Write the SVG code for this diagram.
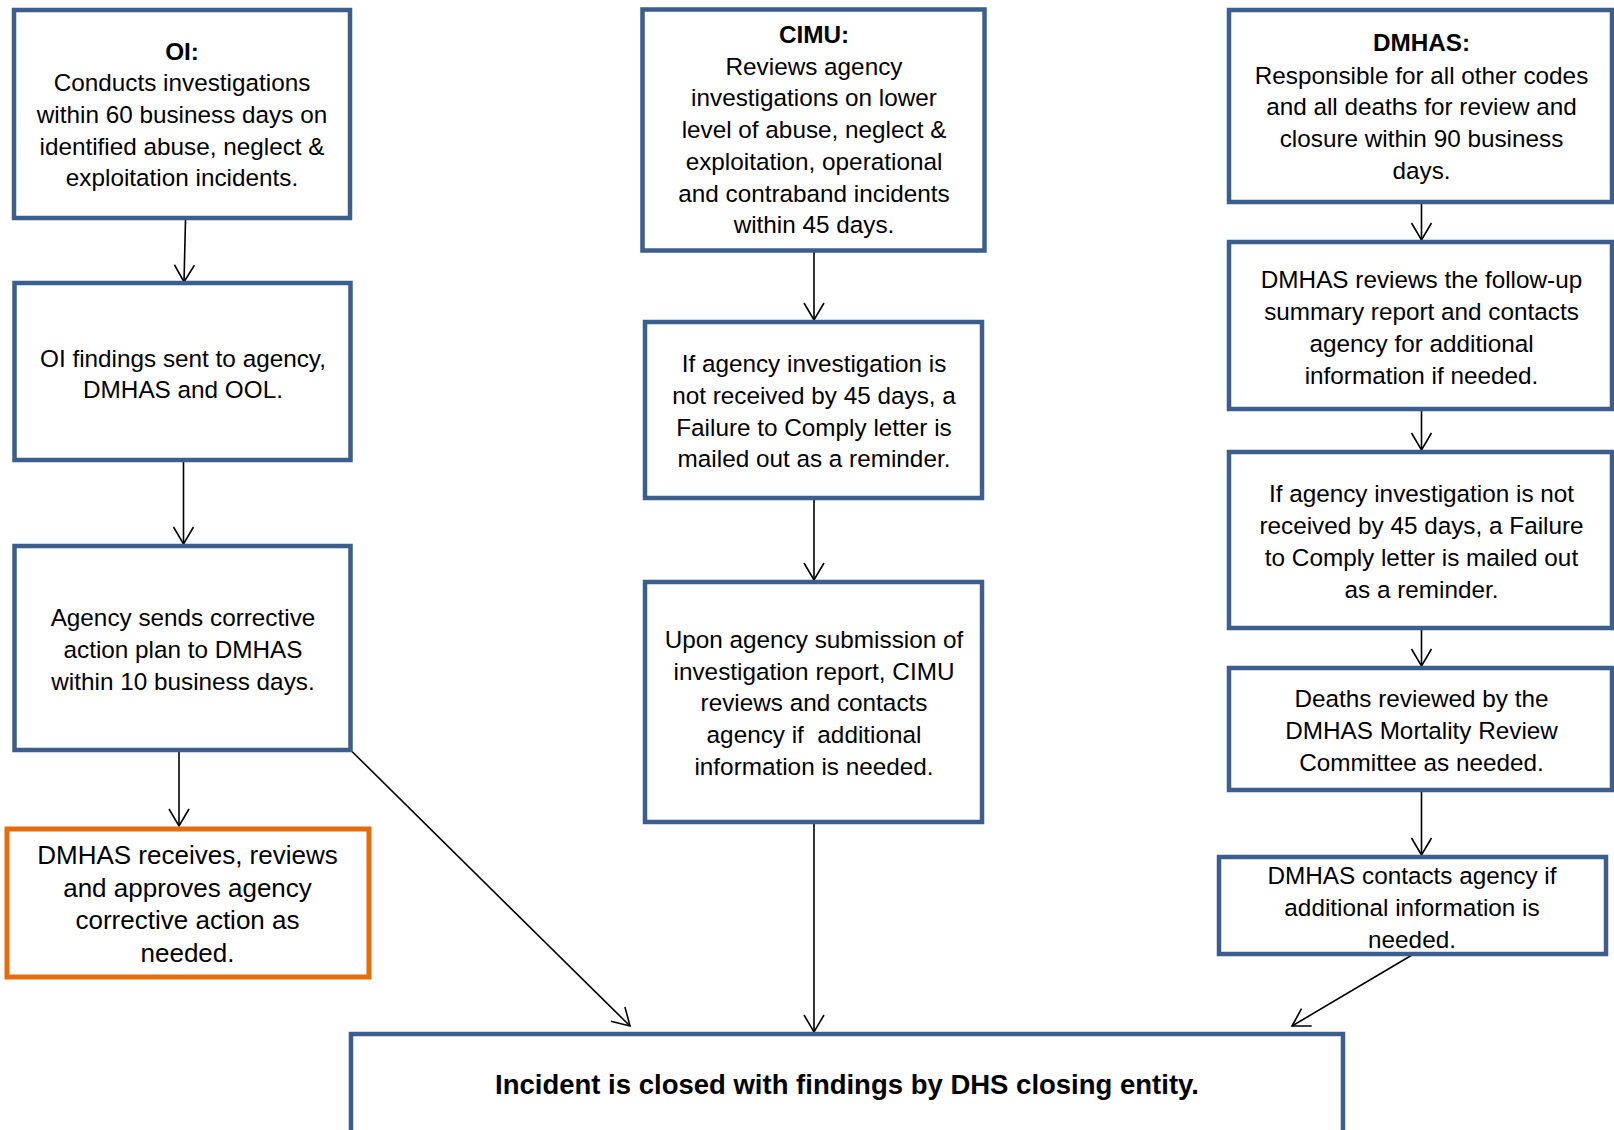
<svg xmlns="http://www.w3.org/2000/svg" width="1614" height="1130" viewBox="0 0 1614 1130">
<style>
.box{fill:#fff;stroke:#3B5E8C;stroke-width:4.5}
.obox{fill:#fff;stroke:#E46C0A;stroke-width:5}
.t{font-family:"Liberation Sans",Arial,sans-serif;font-size:24.3px;fill:#000;text-anchor:middle}
.a{font-family:"Liberation Sans",Arial,sans-serif;font-size:26px;fill:#000;text-anchor:middle}
.b{font-weight:bold}
.big{font-family:"Liberation Sans",Arial,sans-serif;font-size:27.5px;font-weight:bold;fill:#000;text-anchor:middle}
.c{stroke:#000;stroke-width:1.6;fill:none;marker-end:url(#ah)}
</style>
<defs>
<marker id="ah" markerUnits="userSpaceOnUse" viewBox="-20 -12 22 24" markerWidth="22" markerHeight="24" refX="0" refY="0" orient="auto">
<path d="M-17,-10 L0,0 L-17,10" fill="none" stroke="#000" stroke-width="1.6"/>
</marker>
</defs>
<rect width="1614" height="1130" fill="#fff"/>
<g id="connectors">
<line class="c" x1="185.5" y1="220" x2="184" y2="282"/>
<line class="c" x1="183.5" y1="462" x2="183.5" y2="544"/>
<line class="c" x1="179" y1="752" x2="179" y2="826"/>
<line class="c" x1="350.5" y1="750" x2="630" y2="1026"/>
<line class="c" x1="814" y1="252" x2="814" y2="320"/>
<line class="c" x1="814" y1="500" x2="814" y2="580"/>
<line class="c" x1="814" y1="824" x2="814" y2="1032"/>
<line class="c" x1="1421.5" y1="204" x2="1421.5" y2="240"/>
<line class="c" x1="1421.5" y1="411" x2="1421.5" y2="450"/>
<line class="c" x1="1421.5" y1="630" x2="1421.5" y2="666"/>
<line class="c" x1="1421.5" y1="792" x2="1421.5" y2="855"/>
<line class="c" x1="1412" y1="955" x2="1292" y2="1026"/>
</g>
<g id="oi">
<rect class="box" x="14" y="10" width="336" height="208"/>
<text class="t b" x="182" y="59.5">OI:</text>
<text class="t" x="182" y="91.2">Conducts investigations</text>
<text class="t" x="182" y="122.9">within 60 business days on</text>
<text class="t" x="182" y="154.6">identified abuse, neglect &amp;</text>
<text class="t" x="182" y="186.3">exploitation incidents.</text>
</g>
<g id="oi-findings">
<rect class="box" x="14.5" y="283" width="336" height="177"/>
<text class="t" x="183" y="366.5">OI findings sent to agency,</text>
<text class="t" x="183" y="398.3">DMHAS and OOL.</text>
</g>
<g id="agency-plan">
<rect class="box" x="14.5" y="546" width="336" height="204"/>
<text class="t" x="183" y="626">Agency sends corrective</text>
<text class="t" x="183" y="657.9">action plan to DMHAS</text>
<text class="t" x="183" y="689.8">within 10 business days.</text>
</g>
<g id="dmhas-approves">
<rect class="obox" x="7" y="829" width="362" height="148"/>
<text class="a" x="187.5" y="864">DMHAS receives, reviews</text>
<text class="a" x="187.5" y="896.5">and approves agency</text>
<text class="a" x="187.5" y="929">corrective action as</text>
<text class="a" x="187.5" y="961.5">needed.</text>
</g>
<g id="cimu">
<rect class="box" x="642.5" y="9.5" width="342" height="241"/>
<text class="t b" x="814" y="42.7">CIMU:</text>
<text class="t" x="814" y="74.5">Reviews agency</text>
<text class="t" x="814" y="106.2">investigations on lower</text>
<text class="t" x="814" y="138">level of abuse, neglect &amp;</text>
<text class="t" x="814" y="169.7">exploitation, operational</text>
<text class="t" x="814" y="201.5">and contraband incidents</text>
<text class="t" x="814" y="233.2">within 45 days.</text>
</g>
<g id="cimu-reminder">
<rect class="box" x="645" y="322" width="337" height="176"/>
<text class="t" x="814" y="371.7">If agency investigation is</text>
<text class="t" x="814" y="403.6">not received by 45 days, a</text>
<text class="t" x="814" y="435.5">Failure to Comply letter is</text>
<text class="t" x="814" y="467.4">mailed out as a reminder.</text>
</g>
<g id="cimu-review">
<rect class="box" x="645" y="582" width="337" height="240"/>
<text class="t" x="814" y="647.6">Upon agency submission of</text>
<text class="t" x="814" y="679.5">investigation report, CIMU</text>
<text class="t" x="814" y="711.4">reviews and contacts</text>
<text class="t" x="814" y="743.3" xml:space="preserve">agency if  additional</text>
<text class="t" x="814" y="775.2">information is needed.</text>
</g>
<g id="dmhas">
<rect class="box" x="1229" y="10" width="383" height="192"/>
<text class="t b" x="1421.5" y="50.5">DMHAS:</text>
<text class="t" x="1421.5" y="83.5">Responsible for all other codes</text>
<text class="t" x="1421.5" y="115.4">and all deaths for review and</text>
<text class="t" x="1421.5" y="147.3">closure within 90 business</text>
<text class="t" x="1421.5" y="179.2">days.</text>
</g>
<g id="dmhas-followup">
<rect class="box" x="1229" y="242" width="383" height="167"/>
<text class="t" x="1421.5" y="288.3">DMHAS reviews the follow-up</text>
<text class="t" x="1421.5" y="320.2">summary report and contacts</text>
<text class="t" x="1421.5" y="352.2">agency for additional</text>
<text class="t" x="1421.5" y="384.1">information if needed.</text>
</g>
<g id="dmhas-reminder">
<rect class="box" x="1229" y="452" width="383" height="176"/>
<text class="t" x="1421.5" y="502.4">If agency investigation is not</text>
<text class="t" x="1421.5" y="534.4">received by 45 days, a Failure</text>
<text class="t" x="1421.5" y="566.3">to Comply letter is mailed out</text>
<text class="t" x="1421.5" y="598.2">as a reminder.</text>
</g>
<g id="dmhas-mortality">
<rect class="box" x="1229" y="668" width="383" height="122"/>
<text class="t" x="1421.5" y="707.3">Deaths reviewed by the</text>
<text class="t" x="1421.5" y="739.2">DMHAS Mortality Review</text>
<text class="t" x="1421.5" y="771.1">Committee as needed.</text>
</g>
<g id="dmhas-contacts">
<rect class="box" x="1219" y="857" width="387" height="97"/>
<text class="t" x="1412" y="884.3">DMHAS contacts agency if</text>
<text class="t" x="1412" y="916.2">additional information is</text>
<text class="t" x="1412" y="948">needed.</text>
</g>
<g id="closed">
<rect class="box" x="351" y="1034" width="992" height="100"/>
<text class="big" x="847" y="1094">Incident is closed with findings by DHS closing entity.</text>
</g>
</svg>
